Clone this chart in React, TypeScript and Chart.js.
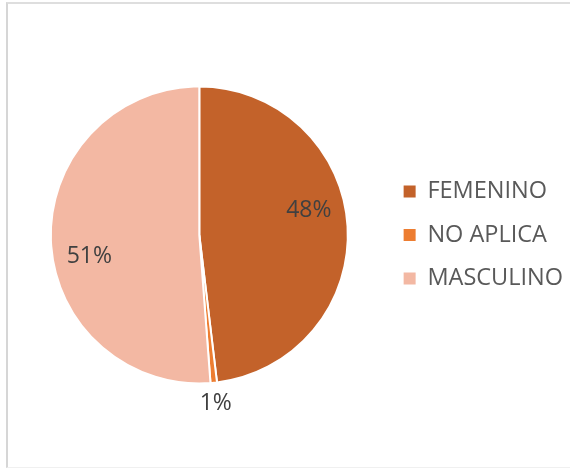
import React, { useEffect, useRef } from "react";
import { Chart, registerables } from "chart.js";

Chart.register(...registerables);

const categories = ["FEMENINO", "NO APLICA", "MASCULINO"];
const values = [48.1, 0.7, 51.2];
const labelsText = ["48%", "1%", "51%"];
const colors = ["#C3622A", "#ED7D31", "#F3B8A3"];

const FONT = "'Open Sans', 'DejaVu Sans', sans-serif";

const pieLabels = {
  id: "pieLabels",
  afterDatasetsDraw(chart: any) {
    const ctx = chart.ctx;
    const meta = chart.getDatasetMeta(0);
    const total = values.reduce((a, b) => a + b, 0);
    ctx.save();
    ctx.font = `23px ${FONT}`;
    ctx.fillStyle = "#404040";
    ctx.textAlign = "center";
    ctx.textBaseline = "middle";
    meta.data.forEach((arc: any, i: number) => {
      const { x, y, startAngle, endAngle, outerRadius } = arc.getProps(
        ["x", "y", "startAngle", "endAngle", "outerRadius"],
        true
      );
      const mid = (startAngle + endAngle) / 2;
      const share = values[i] / total;
      let a = mid;
      let r = outerRadius + 21;
      if (share >= 0.05) {
        a = mid - (9 * Math.PI) / 180;
        r = outerRadius * 0.755;
      }
      ctx.fillText(labelsText[i], x + r * Math.cos(a), y + r * Math.sin(a));
    });
    ctx.restore();
  },
};

export default function App() {
  const ref = useRef<HTMLCanvasElement>(null);
  useEffect(() => {
    if (!ref.current) return;
    const defaultGen = (Chart as any).overrides.pie.plugins.legend.labels.generateLabels;
    const chart = new Chart(ref.current, {
      type: "pie",
      data: {
        labels: categories,
        datasets: [
          {
            data: values,
            backgroundColor: colors,
            borderColor: "#ffffff",
            borderWidth: 2,
          },
        ],
      },
      options: {
        responsive: false,
        animation: false,
        radius: 148.5,
        layout: { padding: { left: 15, right: -3, top: 22, bottom: 20 } },
        plugins: {
          tooltip: { enabled: false },
          legend: {
            position: "right",
            labels: {
              boxWidth: 12,
              boxHeight: 12,
              padding: 20,
              color: "#595959",
              font: { family: FONT, size: 23.5 },
              generateLabels: (c: any) =>
                defaultGen(c).map((l: any) => ({ ...l, lineWidth: 0, strokeStyle: "rgba(0,0,0,0)" })),
            },
          },
        },
      } as any,
      plugins: [pieLabels],
    });
    return () => chart.destroy();
  }, []);
  return (
    <div>
      <div
        style={{
          position: "fixed",
          left: 6,
          top: 2,
          width: 570,
          height: 466,
          borderLeft: "2px solid #d6d6d6",
          borderTop: "2px solid #dedede",
          borderBottom: "1px solid #f0f0f0",
          boxSizing: "border-box",
        }}
      />
      <canvas
        ref={ref}
        width={570}
        height={468}
        style={{ position: "fixed", left: 0, top: 0, width: 570, height: 468 }}
      />
    </div>
  );
}
